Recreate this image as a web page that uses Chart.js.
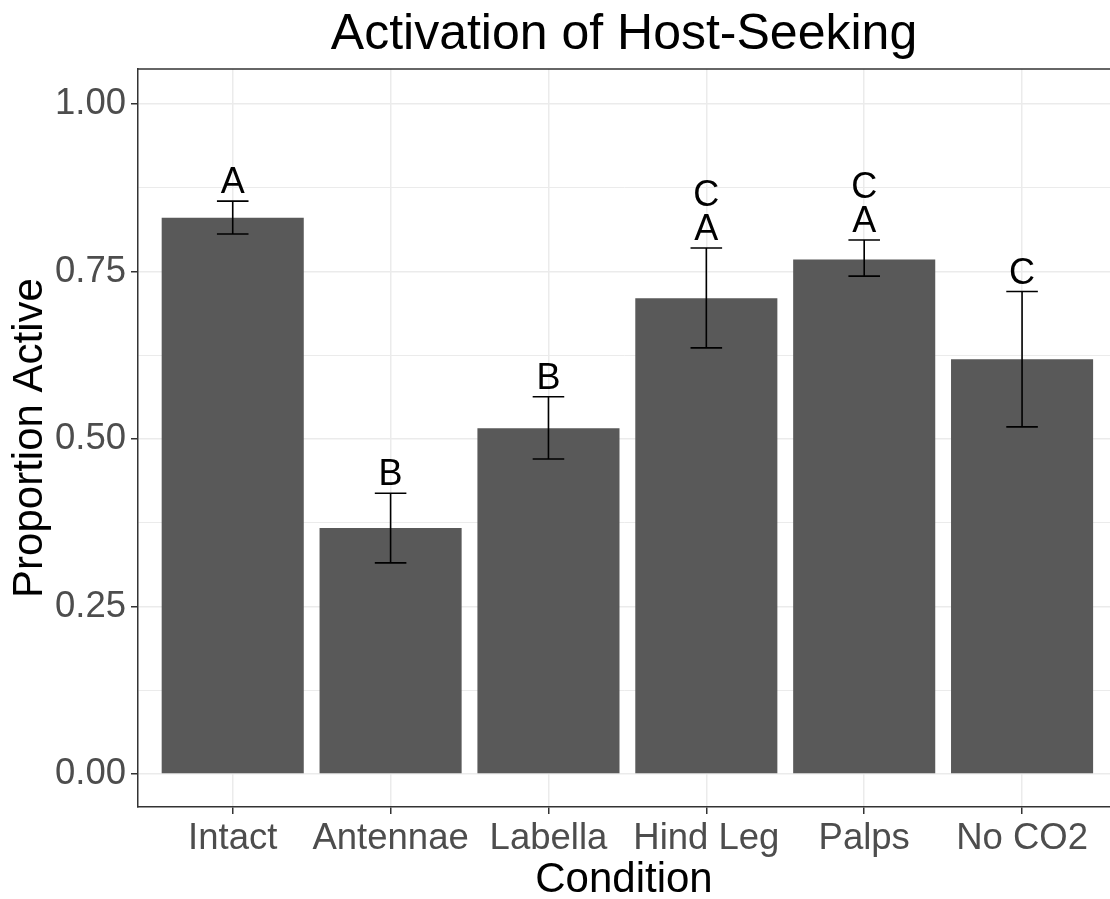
<!DOCTYPE html>
<html>
<head>
<meta charset="utf-8">
<script src="https://cdn.jsdelivr.net/npm/chart.js@4.4.1/dist/chart.umd.min.js"></script>
<style>
  html, body { margin: 0; padding: 0; background: #fff; overflow: hidden; }
  #wrap { width: 1110px; height: 899px; }
</style>
</head>
<body>
<div id="wrap"><canvas id="chart" width="1110" height="899"></canvas></div>
<script>
const categories = ['Intact', 'Antennae', 'Labella', 'Hind Leg', 'Palps', 'No CO2'];
const proportions = [0.830, 0.367, 0.516, 0.710, 0.768, 0.619];
const errLow = [0.806, 0.315, 0.470, 0.636, 0.743, 0.518];
const errHigh = [0.855, 0.419, 0.563, 0.785, 0.797, 0.720];
const letters = [['A'], ['B'], ['B'], ['C', 'A'], ['C', 'A'], ['C']];
const yTicks = [0, 0.25, 0.5, 0.75, 1.0];
const yMinor = [0.125, 0.375, 0.625, 0.875];

const FONT = '"Liberation Sans", Arial, Helvetica, sans-serif';

const barData = categories.map((c, i) => ({ x: i + 1, y: proportions[i] }));

// error bars, significance letters and the top panel border
const extras = {
    id: 'extras',
    afterDatasetsDraw(chart) {
        const ctx = chart.ctx;
        const xs = chart.scales.x;
        const ys = chart.scales.y;
        const area = chart.chartArea;
        const capHalf = xs.getPixelForValue(1.1) - xs.getPixelForValue(1);

        ctx.save();
        ctx.strokeStyle = '#000';
        ctx.lineWidth = 1.6;
        categories.forEach((c, i) => {
            const px = xs.getPixelForValue(i + 1);
            const top = ys.getPixelForValue(errHigh[i]);
            const bot = ys.getPixelForValue(errLow[i]);
            ctx.beginPath();
            ctx.moveTo(px, top); ctx.lineTo(px, bot);
            ctx.moveTo(px - capHalf, top); ctx.lineTo(px + capHalf, top);
            ctx.moveTo(px - capHalf, bot); ctx.lineTo(px + capHalf, bot);
            ctx.stroke();

            ctx.fillStyle = '#000';
            ctx.font = '36px ' + FONT;
            ctx.textAlign = 'center';
            ctx.textBaseline = 'alphabetic';
            const lines = letters[i];
            lines.forEach((t, k) => {
                const fromBottom = lines.length - 1 - k;
                ctx.fillText(t, px, top - 8 - fromBottom * 34);
            });
        });

        ctx.strokeStyle = '#333';
        ctx.lineWidth = 1.5;
        ctx.beginPath();
        ctx.moveTo(area.left, area.top);
        ctx.lineTo(area.right + 2, area.top);
        ctx.stroke();
        ctx.restore();
    }
};

new Chart(document.getElementById('chart'), {
    type: 'bar',
    data: {
        datasets: [{
            data: barData,
            backgroundColor: '#595959',
            borderWidth: 0,
            barPercentage: 0.9,
            categoryPercentage: 1.0
        }]
    },
    options: {
        responsive: false,
        animation: false,
        layout: { padding: { left: 0, right: 0, top: 0, bottom: 0 } },
        plugins: {
            legend: { display: false },
            tooltip: { enabled: false },
            title: {
                display: true,
                fullSize: false,
                text: 'Activation of Host-Seeking',
                color: '#000',
                font: { family: FONT, size: 50, weight: 'normal', lineHeight: 1.2 },
                padding: { top: 5, bottom: 4 }
            }
        },
        scales: {
            x: {
                type: 'linear',
                min: 0.4,
                max: 6.557,
                offset: false,
                afterBuildTicks: s => { s.ticks = categories.map((c, i) => ({ value: i + 1 })); },
                afterFit: s => { s.height = 92; },
                ticks: {
                    color: '#4d4d4d',
                    font: { family: FONT, size: 36.5 },
                    padding: 3,
                    maxRotation: 0,
                    autoSkip: false,
                    callback: v => categories[v - 1]
                },
                grid: { offset: false, color: '#ebebeb', lineWidth: 1.5, tickColor: '#333', tickLength: 7 },
                border: { display: true, color: '#333', width: 1.5 },
                title: {
                    display: true,
                    text: 'Condition',
                    color: '#000',
                    font: { family: FONT, size: 42, lineHeight: 1.0 },
                    padding: { top: 0, bottom: -2 }
                }
            },
            y: {
                type: 'linear',
                min: -0.0493,
                max: 1.0522,
                afterBuildTicks: s => {
                    s.ticks = yTicks.concat(yMinor).sort((a, b) => a - b).map(v => ({ value: v }));
                },
                afterFit: s => { s.width = 138; },
                ticks: {
                    color: '#4d4d4d',
                    font: { family: FONT, size: 36.5 },
                    padding: 5,
                    callback: v => yTicks.includes(v) ? v.toFixed(2) : ''
                },
                grid: {
                    color: '#ebebeb',
                    lineWidth: c => yTicks.includes(c.tick.value) ? 1.5 : 1,
                    tickColor: c => yTicks.includes(c.tick.value) ? '#333' : 'rgba(0,0,0,0)',
                    tickLength: 7
                },
                border: { display: true, color: '#333', width: 1.5 },
                title: {
                    display: true,
                    text: 'Proportion Active',
                    color: '#000',
                    font: { family: FONT, size: 42, lineHeight: 1.0 },
                    padding: { top: 9, bottom: 0 }
                }
            }
        }
    },
    plugins: [extras]
});
</script>
</body>
</html>
